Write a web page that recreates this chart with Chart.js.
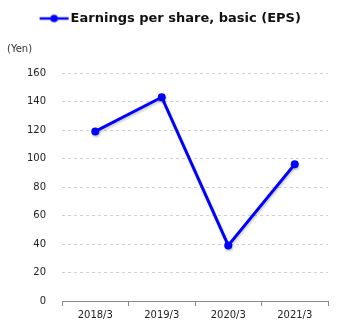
<!DOCTYPE html>
<html>
<head>
<meta charset="utf-8">
<script src="https://cdn.jsdelivr.net/npm/chart.js@4"></script>
<style>
  html, body { margin: 0; padding: 0; background: #fff; }
  #wrap { width: 345px; height: 330px; }
</style>
</head>
<body>
<div id="wrap"><canvas id="eps"></canvas></div>
<script>
// data
const years = ["2018/3", "2019/3", "2020/3", "2021/3"];
const epsValues = [119, 143, 39, 96];
const seriesName = "Earnings per share, basic (EPS)";
const unitLabel = "(Yen)";

const BLUE = "#0000ff";
const FONT = "'DejaVu Sans', Verdana, sans-serif";

// legend marker: line with a dot in the middle
// image is wider than the legend box so the line runs up to the text
const marker = document.createElement("canvas");
marker.width = 41;
marker.height = 10;
const mctx = marker.getContext("2d");
mctx.strokeStyle = BLUE;
mctx.lineWidth = 2.5;
mctx.beginPath();
mctx.moveTo(11, 5);
mctx.lineTo(40, 5);
mctx.stroke();
mctx.fillStyle = BLUE;
mctx.beginPath();
mctx.arc(25.5, 5, 3.8, 0, Math.PI * 2);
mctx.fill();

// soft shadow under the line, like the original
const shadowPlugin = {
  id: "lineShadow",
  beforeDatasetsDraw(chart) {
    const ctx = chart.ctx;
    ctx.save();
    ctx.shadowColor = "rgba(0,0,0,0.18)";
    ctx.shadowBlur = 2;
    ctx.shadowOffsetX = 1;
    ctx.shadowOffsetY = 2;
  },
  afterDatasetsDraw(chart) {
    chart.ctx.restore();
  },
};

new Chart(document.getElementById("eps"), {
  type: "line",
  data: {
    labels: years,
    datasets: [
      {
        label: seriesName,
        data: epsValues,
        borderColor: BLUE,
        backgroundColor: BLUE,
        borderWidth: 3,
        pointRadius: 4,
        pointHoverRadius: 4,
        pointBorderWidth: 0,
        tension: 0,
      },
    ],
  },
  options: {
    responsive: true,
    maintainAspectRatio: false,
    animation: false,
    layout: { padding: { top: 2, right: 17, left: 7, bottom: 0 } },
    plugins: {
      legend: {
        display: true,
        labels: {
          usePointStyle: true,
          pointStyle: marker,
          pointStyleWidth: 30,
          color: "#111",
          font: { family: FONT, size: 13, weight: "bold" },
          padding: 10,
        },
      },
      title: {
        display: true,
        text: unitLabel,
        align: "start",
        weight: 500,
        color: "#333",
        font: { family: FONT, size: 10, weight: "normal" },
        padding: { top: 8, bottom: 18 },
      },
      tooltip: { enabled: false },
    },
    scales: {
      x: {
        offset: true,
        grid: {
          offset: true,
          drawOnChartArea: false,
          drawTicks: true,
          tickLength: 5,
          color: "#888",
        },
        border: { display: true, color: "#888", width: 1 },
        ticks: {
          color: "#222",
          font: { family: FONT, size: 10 },
          maxRotation: 0,
          padding: 3,
        },
        afterFit: (s) => { s.height = 29; },
      },
      y: {
        min: 0,
        max: 160,
        grid: {
          color: "#d0d0d0",
          drawTicks: false,
          lineWidth: 1,
        },
        border: { display: false, dash: [3, 3] },
        ticks: {
          stepSize: 20,
          color: "#222",
          font: { family: FONT, size: 10 },
          padding: 16,
        },
        afterFit: (s) => { s.width = 55; },
      },
    },
  },
  plugins: [shadowPlugin],
});
</script>
</body>
</html>
